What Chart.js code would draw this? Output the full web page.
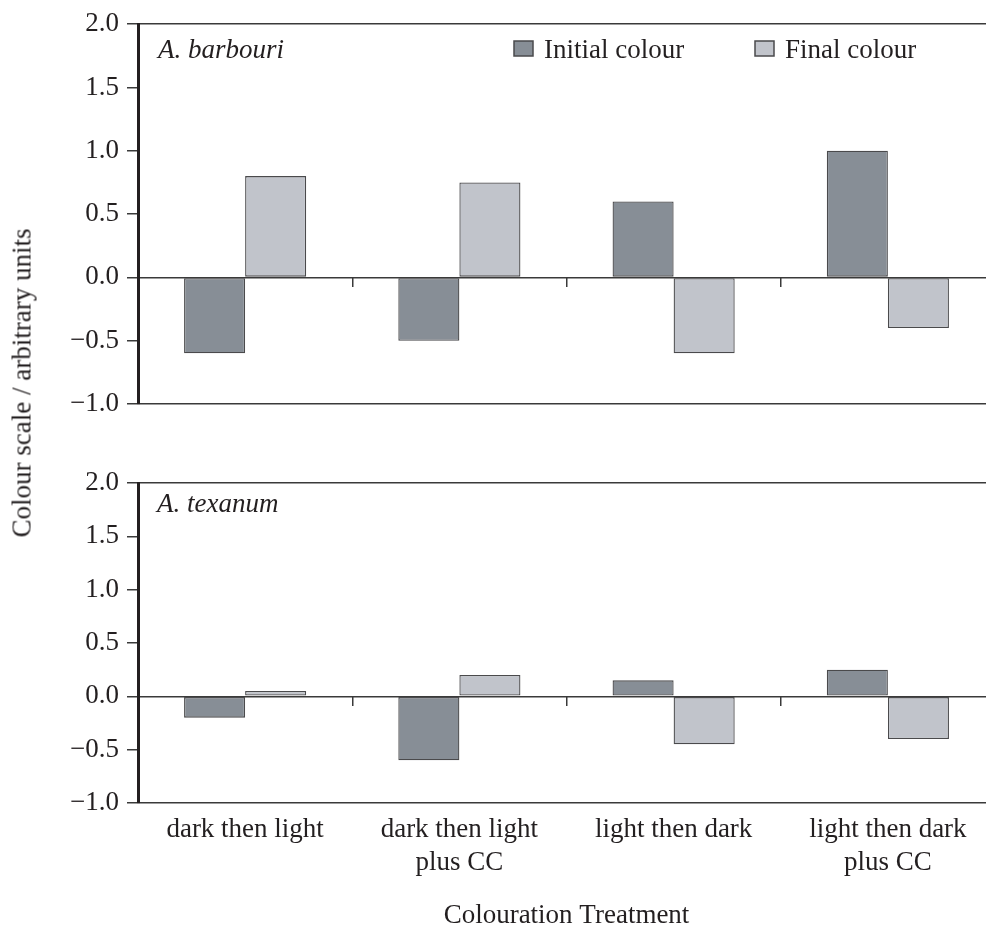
<!DOCTYPE html>
<html>
<head>
<meta charset="utf-8">
<title>Colour scale by colouration treatment</title>
<script src="https://cdn.jsdelivr.net/npm/chart.js@4.4.1/dist/chart.umd.min.js"></script>
<style>
  html, body { margin: 0; padding: 0; background: #fff; overflow: hidden; }
  #wrap { position: relative; width: 986px; height: 928px; overflow: hidden; }
  canvas { position: absolute; left: 0; }
  #topChart { top: 0; }
  #bottomChart { top: 440px; }
  #yTitle {
    position: absolute; left: 22px; top: 383px;
    transform: translate(-50%, -50%) rotate(-90deg);
    font: 27px 'Liberation Serif', 'Times New Roman', serif;
    color: #231f20; white-space: nowrap; line-height: 1;
  }
</style>
</head>
<body>
<div id="wrap">
  <canvas id="topChart" width="1000" height="440"></canvas>
  <canvas id="bottomChart" width="1000" height="500"></canvas>
  <div id="yTitle"></div>
</div>
<script>
// Data
const categories = [
    ['dark then light'],
    ['dark then light', 'plus CC'],
    ['light then dark'],
    ['light then dark', 'plus CC']
];
const seriesNames = ['Initial colour', 'Final colour'];

const barbouriInitial = [-0.6, -0.5, 0.6, 1.0];
const barbouriFinal = [0.8, 0.75, -0.6, -0.4];

const texanumInitial = [-0.2, -0.6, 0.15, 0.25];
const texanumFinal = [0.05, 0.2, -0.45, -0.4];

const yMin = -1.0;
const yMax = 2.0;
const yStep = 0.5;

const yTitle = 'Colour scale / arbitrary units';
const xTitle = 'Colouration Treatment';

// Styling
const FONT = "'Liberation Serif', 'Times New Roman', serif";
const INK = '#231f20';
const LINE = '#3a3a3a';
const DARK = '#878e96';
const LIGHT = '#c1c4cb';
const EDGE = '#4a4a4c';

Chart.defaults.font.family = FONT;
Chart.defaults.font.size = 27;
Chart.defaults.color = INK;

document.getElementById('yTitle').textContent = yTitle;

// Species name and in-plot legend
const panelText = {
    id: 'panelText',
    afterDraw(chart, args, opts) {
        const ctx = chart.ctx;
        ctx.save();
        ctx.textAlign = 'left';
        ctx.textBaseline = 'alphabetic';
        if (opts.species) {
            ctx.font = `italic 27px ${FONT}`;
            ctx.fillStyle = INK;
            ctx.fillText(opts.species, opts.x, opts.y);
        }
        if (opts.legendX) {
            ctx.font = `27px ${FONT}`;
            chart.data.datasets.forEach((ds, i) => {
                const bx = opts.legendX[i];
                ctx.fillStyle = ds.backgroundColor;
                ctx.fillRect(bx, 41, 19, 15);
                ctx.strokeStyle = EDGE;
                ctx.lineWidth = 1.5;
                ctx.strokeRect(bx, 41, 19, 15);
                ctx.fillStyle = INK;
                ctx.fillText(ds.label, bx + 30, 58);
            });
        }
        ctx.restore();
    }
};

function makePanel(canvasId, initial, final, cfg) {
    const barStyle = {
        borderColor: EDGE,
        borderWidth: 1.3,
        borderSkipped: false,
        barPercentage: 1,
        categoryPercentage: 0.57,
        xAxisID: 'x',
        yAxisID: 'y'
    };
    return new Chart(document.getElementById(canvasId), {
        type: 'bar',
        data: {
            labels: categories,
            datasets: [
                { ...barStyle, label: seriesNames[0], data: initial, backgroundColor: DARK },
                { ...barStyle, label: seriesNames[1], data: final, backgroundColor: LIGHT }
            ]
        },
        options: {
            responsive: false,
            animation: false,
            layout: { padding: cfg.padding },
            plugins: {
                legend: { display: false },
                tooltip: { enabled: false },
                panelText: cfg.text
            },
            scales: {
                x: {
                    display: cfg.showLabels,
                    afterFit: s => { s.height = cfg.xHeight; },
                    grid: { display: false, drawTicks: false },
                    border: { display: false },
                    ticks: { padding: 11, color: INK, maxRotation: 0, autoSkip: false, font: { size: 27, lineHeight: 1.2 } },
                    title: { display: true, text: xTitle, color: INK, font: { size: 27, lineHeight: 1.2 }, padding: { top: 0, bottom: 8 } }
                },
                x2: {
                    type: 'category',
                    axis: 'x',
                    position: { y: 0 },
                    offset: true,
                    ticks: { display: false },
                    grid: { offset: true, drawOnChartArea: false, drawTicks: true, tickLength: 10, color: LINE, lineWidth: 1.5 },
                    border: { display: false }
                },
                y: {
                    min: yMin,
                    max: yMax,
                    afterFit: s => { s.width = 138; },
                    ticks: {
                        stepSize: yStep,
                        padding: 8,
                        color: INK,
                        callback: v => (v < 0 ? '\u2212' : '') + Math.abs(v).toFixed(1)
                    },
                    grid: {
                        color: c => ([yMin, 0, yMax].includes(c.tick.value) ? LINE : 'rgba(0,0,0,0)'),
                        tickColor: LINE,
                        lineWidth: 1.5,
                        tickLength: 11
                    },
                    border: { display: true, color: INK, width: 3 }
                }
            }
        },
        plugins: [panelText]
    });
}

makePanel('topChart', barbouriInitial, barbouriFinal, {
    padding: { top: 18, bottom: 36, left: 0, right: 5 },
    showLabels: false,
    xHeight: 0,
    text: { species: 'A. barbouri', x: 158, y: 58, legendX: [514, 755] }
});

makePanel('bottomChart', texanumInitial, texanumFinal, {
    padding: { top: 43, bottom: 0, left: 0, right: 5 },
    showLabels: true,
    xHeight: 137,
    text: { species: 'A. texanum', x: 157, y: 72 }
});
</script>
</body>
</html>
